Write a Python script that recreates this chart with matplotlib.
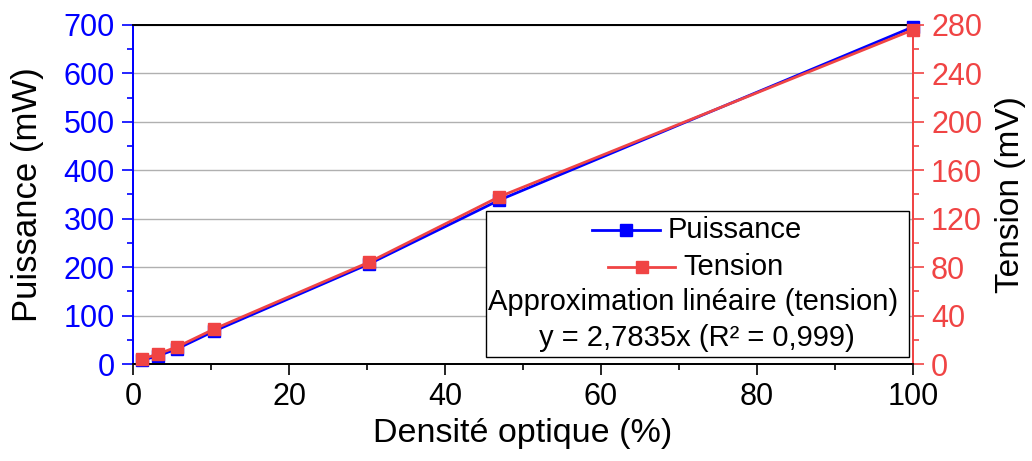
import matplotlib
matplotlib.use("Agg")
import matplotlib.pyplot as plt
from matplotlib.lines import Line2D
from matplotlib.patches import Rectangle
from matplotlib.ticker import MultipleLocator

densite = [1.2, 3.2, 5.6, 10.4, 30.3, 46.9, 100.0]
puissance = [8, 17, 31, 68, 207, 338, 696]
tension = [4.1, 8.3, 14.0, 28.9, 84.2, 138.0, 276.0]

BLUE = "#0000FF"
RED = "#F04444"

plt.rcParams['font.family'] = ['Liberation Sans', 'DejaVu Sans']

fig = plt.figure(figsize=(10.32, 4.61), dpi=100)
ax = fig.add_axes([0.1289, 0.2104, 0.7558, 0.7354])
ax2 = ax.twinx()

ax.plot(densite, puissance, color=BLUE, lw=2.0, marker='s', ms=8.8, zorder=3, clip_on=False)
ax2.plot(densite, tension, color=RED, lw=2.0, marker='s', ms=8.8, zorder=3, clip_on=False)

ax.set_xlim(0, 100)
ax.set_ylim(0, 700)
ax2.set_ylim(0, 280)

ax.xaxis.set_major_locator(MultipleLocator(20))
ax.xaxis.set_minor_locator(MultipleLocator(10))
ax.yaxis.set_major_locator(MultipleLocator(100))
ax.yaxis.set_minor_locator(MultipleLocator(50))
ax2.yaxis.set_major_locator(MultipleLocator(40))
ax2.yaxis.set_minor_locator(MultipleLocator(20))

ax.grid(axis='y', which='major', color='#B0B0B0', lw=1.0)
ax.set_axisbelow(True)

for a in (ax, ax2):
    a.tick_params(which='major', direction='out', length=8, width=1.2, labelsize=22, pad=5)
    a.tick_params(which='minor', direction='out', length=4, width=1.2)
    a.spines['top'].set_color('black')
    a.spines['bottom'].set_color('black')
    for s in a.spines.values():
        s.set_linewidth(1.3)

ax.spines['left'].set_color(BLUE)
ax2.spines['left'].set_color(BLUE)
ax.spines['right'].set_color(RED)
ax2.spines['right'].set_color(RED)
ax.tick_params(axis='y', which='both', colors=BLUE, labelcolor=BLUE)
ax2.tick_params(axis='y', which='both', colors=RED, labelcolor=RED)
ax.tick_params(axis='x', which='both', colors='black')

for lab in ax.get_xticklabels():
    lab.set_family(['Liberation Sans Narrow', 'Liberation Sans'])

ax.set_xlabel("Densité optique (%)", fontsize=24.5, labelpad=4)
ax.set_ylabel("Puissance (mW)", fontsize=25, labelpad=14)
ax2.set_ylabel("Tension (mV)", fontsize=24, labelpad=9)

# Legend box
T = ax2.transAxes
ax2.add_patch(Rectangle((0.4526, 0.0206), 0.5424, 0.4304, transform=T,
                        facecolor='white', edgecolor='black', lw=1.0, zorder=5))
ax2.add_line(Line2D([0.589, 0.675], [0.395, 0.395], transform=T, color=BLUE, lw=2.0, zorder=6))
ax2.add_line(Line2D([0.632], [0.395], transform=T, color=BLUE, marker='s', ms=8.8, zorder=6))
ax2.text(0.686, 0.395, "Puissance", transform=T, fontsize=21, va='center', ha='left', zorder=7)
ax2.add_line(Line2D([0.609, 0.695], [0.286, 0.286], transform=T, color=RED, lw=2.0, zorder=6))
ax2.add_line(Line2D([0.652], [0.286], transform=T, color=RED, marker='s', ms=8.8, zorder=6))
ax2.text(0.706, 0.286, "Tension", transform=T, fontsize=21, va='center', ha='left', zorder=7)
ax2.text(0.718, 0.183, "Approximation linéaire (tension)", transform=T, fontsize=21,
         va='center', ha='center', zorder=7)
ax2.text(0.723, 0.078, "y = 2,7835x (R² = 0,999)", transform=T, fontsize=21,
         va='center', ha='center', zorder=7)

fig.savefig("out.png", dpi=100)
